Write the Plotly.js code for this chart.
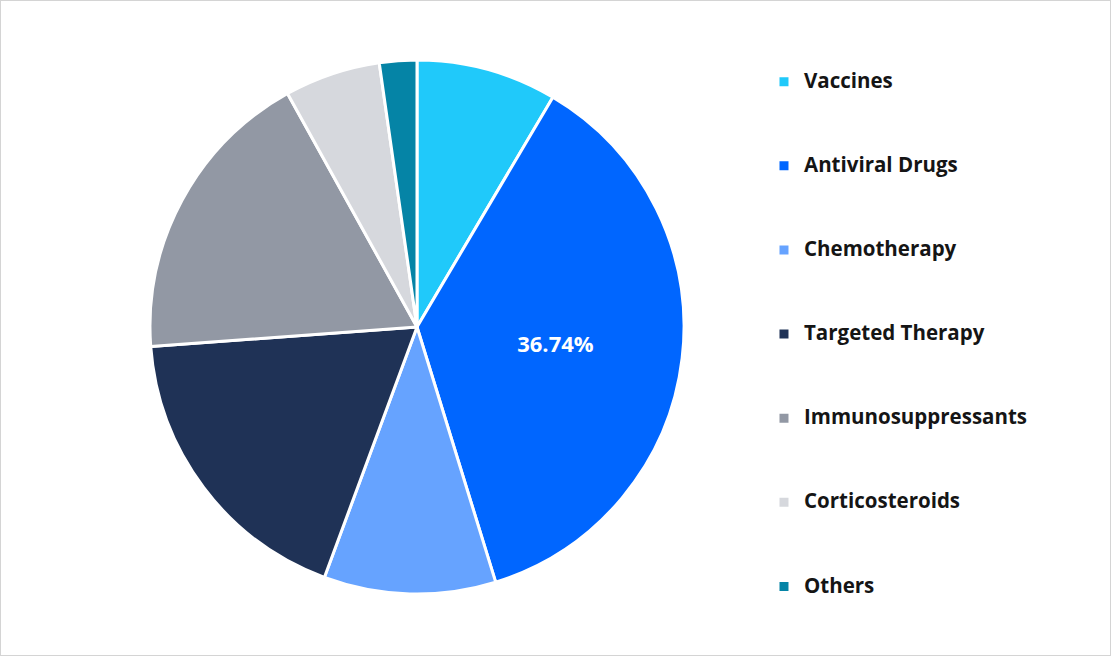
<!DOCTYPE html>
<html>
<head>
<meta charset="utf-8">
<script src="https://cdn.plot.ly/plotly-3.0.1.min.js"></script>
<style>
  html, body { margin: 0; padding: 0; background: #ffffff; }
  #chart { width: 1109px; height: 654px; border: 1px solid #d4d4d4; }
</style>
</head>
<body>
<div id="chart"></div>
<script>
// Data
const categories = ["Vaccines", "Antiviral Drugs", "Chemotherapy", "Targeted Therapy", "Immunosuppressants", "Corticosteroids", "Others"];
const shares = [8.5, 36.74, 10.4, 18.2, 18.1, 5.8, 2.26];
const colors = ["#20C9FA", "#0066FF", "#66A3FF", "#1F3256", "#9298A4", "#D6D8DD", "#0584A6"];
const labelShown = [false, true, false, false, false, false, false];

// Legend labels padded with blank lines to reproduce the wide legend spacing
// (the last entry has no padding so the legend stays inside the figure)
const legendLabels = categories.map((c, i) =>
  '<span style="font-size:20.5px">' + c + '</span>' +
  (i < categories.length - 1 ? "<br>\u00a0<br>\u00a0<br>\u00a0" : ""));

const trace = {
  type: "pie",
  labels: legendLabels,
  values: shares,
  sort: false,
  direction: "clockwise",
  rotation: 0,
  marker: { colors: colors, line: { color: "#ffffff", width: 3 } },
  texttemplate: labelShown.map(s => s ? "%{percent:.2%}" : ""),
  textposition: "inside",
  insidetextfont: { color: "#ffffff", size: 22, family: "Open Sans", weight: 700 },
  hoverinfo: "skip",
  domain: { x: [149 / 1109, 683 / 1109], y: [61 / 654, 595 / 654] }
};

const layout = {
  width: 1109,
  height: 654,
  margin: { l: 0, r: 0, t: 0, b: 0 },
  paper_bgcolor: "#ffffff",
  font: { family: "Open Sans", color: "#111111" },
  showlegend: true,
  legend: {
    x: 0.688, xanchor: "left",
    y: 0.902, yanchor: "top",
    valign: "top",
    font: { family: "Open Sans", size: 15.6, color: "#151515", weight: 700 },
    bgcolor: "rgba(0,0,0,0)"
  }
};

Plotly.newPlot("chart", [trace], layout, { displayModeBar: false, staticPlot: true });
</script>
</body>
</html>
